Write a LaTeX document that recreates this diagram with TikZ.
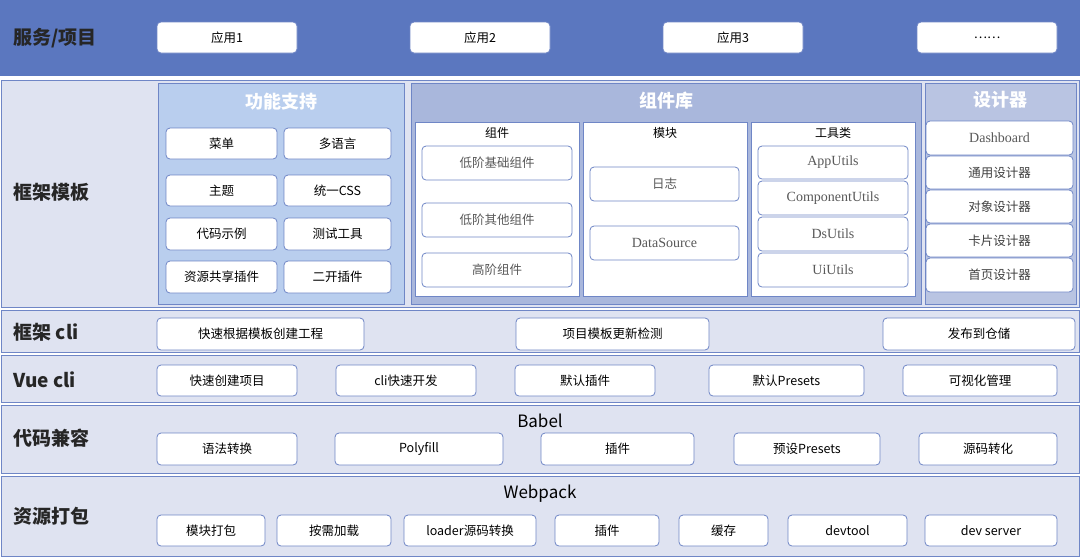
\documentclass[tikz,border=0pt]{standalone}
\usepackage{fontspec}
\setmainfont{Noto Sans CJK SC}
\newfontfamily\serifen{Liberation Serif}[Scale=1.12]
\usetikzlibrary{positioning,calc}
\definecolor{bandblue}{HTML}{5B77BF}
\definecolor{rowbg}{HTML}{DFE3F1}
\definecolor{panelblue}{HTML}{B9CEEE}
\definecolor{libblue}{HTML}{A9B7DC}
\definecolor{edgeblue}{HTML}{6F86C6}
\tikzset{
  every node/.append style={font=\fontsize{12.5}{15}\selectfont},
  band/.style={draw=edgeblue, line width=1pt},
  box/.style={draw=edgeblue, fill=white, rounded corners=4pt, line width=0.8pt, inner sep=0pt},
  rowlabel/.style={anchor=west, font=\fontsize{19}{22}\selectfont\bfseries, text=black!85},
  paneltitle/.style={font=\fontsize{18}{21}\selectfont\bfseries, text=white},
  subtitle/.style={font=\fontsize{12}{14}\selectfont}
}
% box from corner to corner (pixel coordinates)
\newcommand{\bx}[6]{\node[box, minimum width={#4-#2}, minimum height={#5-#3}]
  (#1) at ({(#2+#4)/2},{(#3+#5)/2}) {#6};}
\begin{document}
\begin{tikzpicture}[x=1pt,y=-1pt]
\useasboundingbox (0,0) rectangle (1080,558);

% Bands
\fill[bandblue] (0,0) rectangle (1080,76);
\draw[band, fill=rowbg] (1,80) rectangle (1079,307);
\draw[band, fill=rowbg] (1,310) rectangle (1079,352);
\draw[band, fill=rowbg] (1,355) rectangle (1079,402);
\draw[band, fill=rowbg] (1,405) rectangle (1079,473);
\draw[band, fill=rowbg] (1,476) rectangle (1079,556);

% Row labels
\node[rowlabel] (lsvc) at (10,38) {服务/项目};
\node[rowlabel] (ltpl) at (10,192) {框架模板};
\node[rowlabel] (lcli) at (10,332) {框架 cli};
\node[rowlabel] (lvue) at (10,380) {Vue cli};
\node[rowlabel] (lcmp) at (10,438) {代码兼容};
\node[rowlabel] (lpkg) at (10,516) {资源打包};

% Services
\bx{app1}{157}{22}{297}{53}{应用1}
\bx{app2}{410}{22}{550}{53}{应用2}
\bx{app3}{663}{22}{803}{53}{应用3}
\bx{appn}{917}{22}{1057}{53}{……}

% Panels
\draw[draw=edgeblue, fill=panelblue] (158,83) rectangle (404,304);
\draw[draw=edgeblue, fill=libblue] (411,83) rectangle (921,304);
\draw[draw=edgeblue, fill=libblue!70!rowbg] (925,83) rectangle (1076,304);
\node[paneltitle] (tfunc) at (281,102) {功能支持};
\node[paneltitle] (tlib) at (666,101) {组件库};
\node[paneltitle] (tdes) at (1000,100) {设计器};

% Function support
\bx{menu}{166}{128}{277}{159}{菜单}
\bx{lang}{284}{128}{391}{159}{多语言}
\bx{theme}{166}{175}{277}{206}{主题}
\bx{css}{284}{175}{391}{206}{统一CSS}
\bx{demo}{166}{218}{277}{250}{代码示例}
\bx{test}{284}{218}{391}{250}{测试工具}
\bx{share}{166}{261}{277}{293}{资源共享插件}
\bx{ext}{284}{261}{391}{293}{二开插件}

% Library sub-panels
\draw[draw=edgeblue, fill=white] (415,122) rectangle (579,296);
\draw[draw=edgeblue, fill=white] (583,122) rectangle (747,296);
\draw[draw=edgeblue, fill=white] (751,122) rectangle (915,296);
\node[subtitle] (scomp) at (497,133) {组件};
\node[subtitle] (smod) at (665,133) {模块};
\node[subtitle] (stool) at (833,133) {工具类};
\bx{low}{422}{146}{572}{180}{\textcolor{black!65}{低阶基础组件}}
\bx{other}{422}{203}{572}{237}{\textcolor{black!65}{低阶其他组件}}
\bx{high}{422}{253}{572}{287}{\textcolor{black!65}{高阶组件}}
\bx{log}{590}{167}{739}{201}{\textcolor{black!65}{日志}}
\bx{ds}{590}{226}{739}{260}{\serifen\textcolor{black!65}{DataSource}}
\bx{apputil}{758}{146}{908}{179}{\serifen\textcolor{black!65}{AppUtils}}
\bx{cmputil}{758}{181}{908}{215}{\serifen\textcolor{black!65}{ComponentUtils}}
\bx{dsutil}{758}{217}{908}{251}{\serifen\textcolor{black!65}{DsUtils}}
\bx{uiutil}{758}{253}{908}{287}{\serifen\textcolor{black!65}{UiUtils}}

% Designers
\bx{dash}{926}{121}{1073}{155}{\serifen\textcolor{black!65}{Dashboard}}
\bx{gen}{926}{156}{1073}{189}{\textcolor{black!75}{通用设计器}}
\bx{obj}{926}{190}{1073}{223}{\textcolor{black!75}{对象设计器}}
\bx{card}{926}{224}{1073}{257}{\textcolor{black!75}{卡片设计器}}
\bx{home}{926}{258}{1073}{292}{\textcolor{black!75}{首页设计器}}

% Framework cli
\bx{create}{157}{318}{364}{350}{快速根据模板创建工程}
\bx{check}{516}{318}{709}{350}{项目模板更新检测}
\bx{pub}{883}{318}{1075}{350}{发布到仓储}

% Vue cli
\bx{vnew}{157}{365}{297}{396}{快速创建项目}
\bx{vdev}{336}{365}{476}{396}{cli快速开发}
\bx{vplug}{515}{365}{655}{396}{默认插件}
\bx{vpre}{709}{365}{864}{396}{默认Presets}
\bx{vgui}{903}{365}{1057}{396}{可视化管理}

% Babel
\node[font=\fontsize{17}{20}\selectfont] (babel) at (540,421) {Babel};
\bx{syn}{157}{433}{297}{465}{语法转换}
\bx{poly}{335}{433}{503}{465}{Polyfill}
\bx{bplug}{541}{433}{694}{465}{插件}
\bx{bpre}{734}{433}{880}{465}{预设Presets}
\bx{src}{919}{433}{1057}{465}{源码转化}

% Webpack
\node[font=\fontsize{17}{20}\selectfont] (webpack) at (540,494) {Webpack};
\bx{wmod}{157}{515}{265}{546}{模块打包}
\bx{wlazy}{277}{515}{391}{546}{按需加载}
\bx{wload}{404}{515}{536}{546}{loader源码转换}
\bx{wplug}{555}{515}{659}{546}{插件}
\bx{wcache}{679}{515}{768}{546}{缓存}
\bx{wtool}{788}{515}{907}{546}{devtool}
\bx{wserv}{925}{515}{1057}{546}{dev server}
\end{tikzpicture}
\end{document}
